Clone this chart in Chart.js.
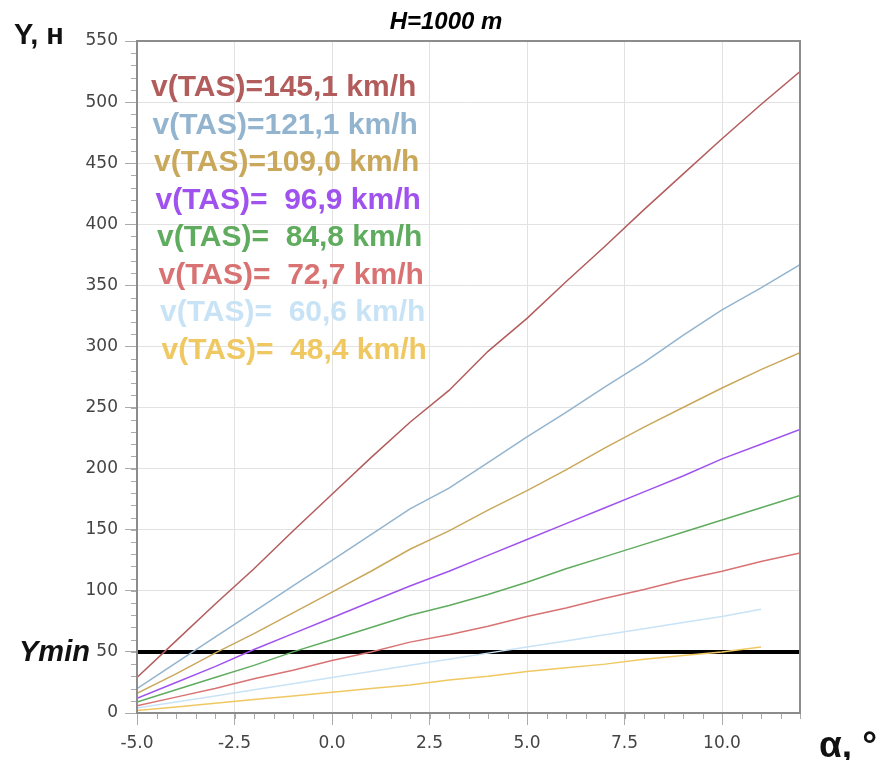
<!DOCTYPE html>
<html>
<head>
<meta charset="utf-8">
<script src="https://cdn.jsdelivr.net/npm/chart.js@4.4.0/dist/chart.umd.min.js"></script>
<style>
  html, body { margin: 0; padding: 0; background: #fff; }
  #wrap { width: 882px; height: 760px; }
</style>
</head>
<body>
<div id="wrap"><canvas id="chart" width="882" height="760"></canvas></div>
<script>
// angle of attack, degrees
const alpha = [-5, -4, -3, -2, -1, 0, 1, 2, 3, 4, 5, 6, 7, 8, 9, 10, 11, 12];

// lift Y, N for each true airspeed
const y145 = [29, 59, 89, 118, 149, 179, 209, 238, 264, 296, 323, 353, 382, 412, 441, 470, 498, 525];
const y121 = [20, 41, 62, 83, 104, 125, 146, 167, 184, 205, 226, 246, 267, 287, 309, 330, 348, 367];
const y109 = [16, 32, 49, 65, 82, 99, 116, 134, 149, 166, 182, 199, 217, 234, 250, 266, 281, 295];
const y97 = [12, 25, 38, 52, 65, 78, 91, 104, 116, 129, 142, 155, 168, 181, 194, 208, 220, 232];
const y85 = [9, 19, 29, 39, 50, 60, 70, 80, 88, 97, 107, 118, 128, 138, 148, 158, 168, 178];
const y73 = [6, 13, 20, 28, 35, 43, 50, 58, 64, 71, 79, 86, 94, 101, 109, 116, 124, 131];
const y61 = [4, 9, 14, 19, 24, 29, 34, 39, 44, 49, 54, 59, 64, 69, 74, 79, 85];
const y48 = [2, 5, 8, 11, 14, 17, 20, 23, 27, 30, 34, 37, 40, 44, 47, 50, 54];

const labels = [
   "v(TAS)=145,1 km/h",
   "v(TAS)=121,1 km/h",
   "v(TAS)=109,0 km/h",
   "v(TAS)=  96,9 km/h",
   "v(TAS)=  84,8 km/h",
   "v(TAS)=  72,7 km/h",
   "v(TAS)=  60,6 km/h",
   "v(TAS)=  48,4 km/h"
];
const colors = ["#b35c5c", "#93b4cf", "#c9a85c", "#a052ee", "#5fac5f", "#d97272", "#c9e3f6", "#f0c862"];
const series = [y145, y121, y109, y97, y85, y73, y61, y48];

// minimum lift line
const yMin = 50;
const yMinX = [-5, 12];

const xTicksStep = 2.5;
const yTicksStep = 50;

function points(ys) {
   return ys.map(function (v, i) { return { x: alpha[i], y: v }; });
}

const datasets = series.map(function (ys, i) {
   return {
      label: labels[i],
      data: points(ys),
      borderColor: colors[i],
      backgroundColor: colors[i],
      borderWidth: 1.5,
      pointRadius: 0,
      tension: 0
   };
});

datasets.push({
   label: "Ymin",
   data: yMinX.map(function (x) { return { x: x, y: yMin }; }),
   borderColor: "#000",
   borderWidth: 4,
   pointRadius: 0
});

// short minor ticks, plot frame and the free texts
const extras = {
   id: "extras",
   beforeDatasetsDraw: function (chart) {
      const ctx = chart.ctx;
      const a = chart.chartArea;
      const xs = chart.scales.x;
      const ys = chart.scales.y;
      ctx.save();
      ctx.strokeStyle = "#aaa";
      ctx.lineWidth = 1;
      ctx.beginPath();
      for (let v = -5; v <= 12.001; v += 0.5) {
         const px = Math.round(xs.getPixelForValue(v)) + 0.5;
         ctx.moveTo(px, a.bottom);
         ctx.lineTo(px, a.bottom + 6);
      }
      for (let v = 0; v <= 550; v += 10) {
         const py = Math.round(ys.getPixelForValue(v)) + 0.5;
         ctx.moveTo(a.left, py);
         ctx.lineTo(a.left - 6, py);
      }
      ctx.stroke();
      ctx.restore();
   },
   afterDatasetsDraw: function (chart) {
      const ctx = chart.ctx;
      const a = chart.chartArea;
      ctx.save();
      ctx.strokeStyle = "#8c8c8c";
      ctx.lineWidth = 2;
      ctx.strokeRect(a.left, a.top, a.right - a.left, a.bottom - a.top);

      ctx.font = "bold 30px 'Liberation Sans', Arial, sans-serif";
      ctx.textBaseline = "middle";
      ctx.textAlign = "left";
      for (let i = 0; i < labels.length; i++) {
         ctx.fillStyle = colors[i];
         ctx.fillText(labels[i], 151 + i * 1.5, 88 + i * 37.5);
      }

      ctx.fillStyle = "#000";
      ctx.textAlign = "center";
      ctx.font = "italic bold 24px 'Liberation Sans', Arial, sans-serif";
      ctx.fillText("H=1000 m", 446, 22);

      ctx.fillStyle = "#111";
      ctx.textAlign = "left";
      ctx.textBaseline = "alphabetic";
      ctx.font = "bold 29px 'Liberation Sans', Arial, sans-serif";
      ctx.fillText("Y, н", 14, 44);

      ctx.font = "italic bold 29px 'Liberation Sans', Arial, sans-serif";
      ctx.fillText("Ymin", 19, 661);

      ctx.font = "bold 37px 'Liberation Sans', Arial, sans-serif";
      ctx.fillText("α, °", 819, 757);
      ctx.restore();
   }
};

const config = {
   type: "line",
   data: { datasets: datasets },
   options: {
      responsive: false,
      animation: false,
      layout: { padding: { left: 0, right: 82, top: 41, bottom: 0 } },
      plugins: {
         legend: { display: false },
         tooltip: { enabled: false },
         title: { display: false }
      },
      scales: {
         x: {
            type: "linear",
            min: -5,
            max: 12,
            afterFit: function (s) { s.height = 47; },
            grid: { color: "#e2e2e2", tickColor: "#aaa", tickLength: 12 },
            border: { display: false },
            ticks: {
               stepSize: xTicksStep,
               includeBounds: false,
               padding: 8,
               color: "#444",
               font: { family: "'DejaVu Sans', Verdana, sans-serif", size: 17 },
               callback: function (value) { return value.toFixed(1); }
            }
         },
         y: {
            type: "linear",
            min: 0,
            max: 550,
            afterFit: function (s) { s.width = 137; },
            grid: { color: "#e2e2e2", tickColor: "#aaa", tickLength: 12 },
            border: { display: false },
            ticks: {
               stepSize: yTicksStep,
               padding: 7,
               color: "#444",
               font: { family: "'DejaVu Sans', Verdana, sans-serif", size: 17 }
            }
         }
      }
   },
   plugins: [extras]
};

const myChart = new Chart(document.getElementById("chart"), config);
</script>
</body>
</html>
